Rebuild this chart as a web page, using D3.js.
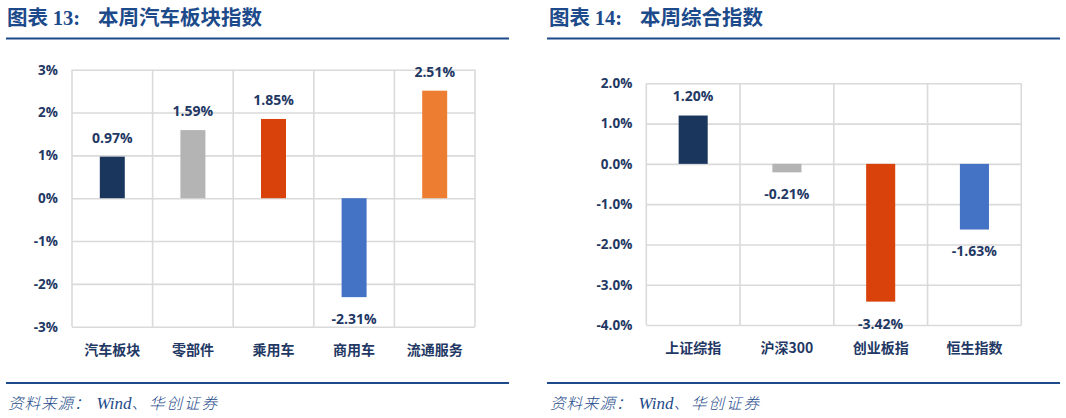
<!DOCTYPE html>
<html>
<head>
<meta charset="utf-8">
<script src="https://cdn.jsdelivr.net/npm/d3@7"></script>
<style>
  body { margin: 0; background: #fff; }
  svg { display: block; }
</style>
</head>
<body>
<svg width="1066" height="418"></svg>
<script>
// chart 13: auto sector indices
const autoCategories = ["汽车板块", "零部件", "乘用车", "商用车", "流通服务"];
const autoValues = [0.97, 1.59, 1.85, -2.31, 2.51];
const autoTicks = [-3, -2, -1, 0, 1, 2, 3];

// chart 14: broad market indices
const indexCategories = ["上证综指", "沪深300", "创业板指", "恒生指数"];
const indexValues = [1.20, -0.21, -3.42, -1.63];
const indexTicks = [-4, -3, -2, -1, 0, 1, 2];

const autoColors = ["#1b365d", "#b4b4b4", "#d9420b", "#4472c4", "#ed7d31"];
const indexColors = ["#1b365d", "#b4b4b4", "#d9420b", "#4472c4"];

const svg = d3.select("svg");
const navy = "#1f3864";
const blue = "#1c4a8a";
const numFont = "'Open Sans', 'Noto Sans CJK SC', sans-serif";
const cjkFont = "'Noto Sans CJK SC', sans-serif";

// plain hyphen for negatives, like the original
const locale = d3.formatLocale({ decimal: ".", thousands: ",", grouping: [3], currency: ["", ""], minus: "-" });

const drawPanel = function(opt) {
  const g = svg.append("g");

  // title + rules
  const title = g.append("text")
    .attr("x", opt.titleX)
    .attr("y", 24.5)
    .attr("fill", blue)
    .attr("font-size", 20.5)
    .attr("font-weight", "bold");
  title.append("tspan").attr("font-family", cjkFont).text("图表 ");
  title.append("tspan").attr("font-family", "'Liberation Serif', serif").text(opt.number + ":");
  title.append("tspan").attr("font-family", cjkFont).attr("dx", 18).text(opt.title);

  g.append("line")
    .attr("x1", opt.ruleX0).attr("x2", opt.ruleX1)
    .attr("y1", 38.5).attr("y2", 38.5)
    .attr("stroke", blue).attr("stroke-width", 2.2);
  g.append("line")
    .attr("x1", opt.ruleX0).attr("x2", opt.ruleX1)
    .attr("y1", 383).attr("y2", 383)
    .attr("stroke", blue).attr("stroke-width", 2.2);

  const source = g.append("text")
    .attr("x", opt.titleX + 1)
    .attr("y", 409)
    .attr("fill", blue)
    .attr("font-size", 15.5)
    .attr("font-style", "italic");
  source.append("tspan").attr("font-family", cjkFont).attr("font-weight", 300).attr("letter-spacing", 1).text("资料来源：");
  source.append("tspan").attr("font-family", "'Liberation Serif', serif").attr("font-size", 17).attr("dx", 6).text("Wind");
  source.append("tspan").attr("font-family", cjkFont).attr("font-weight", 300).attr("letter-spacing", 2).text("、华创证券");

  const scaleX = d3.scaleBand()
    .domain(opt.categories)
    .range([opt.left, opt.right])
    .padding(0);

  const scaleY = d3.scaleLinear()
    .domain(d3.extent(opt.ticks))
    .range([opt.bottom, opt.top]);

  // horizontal grid + y labels
  const axisY = d3.axisLeft(scaleY)
    .tickValues(opt.ticks)
    .tickSizeInner(-(opt.right - opt.left))
    .tickSizeOuter(0)
    .tickPadding(14)
    .tickFormat(d => locale.format(opt.fmt)(d) + "%");

  const yGroup = g.append("g")
    .attr("transform", `translate(${opt.left},0)`)
    .call(axisY);
  yGroup.select(".domain").remove();
  yGroup.selectAll("line").attr("stroke", "#dadada").attr("stroke-width", 1.6);
  yGroup.selectAll("text")
    .attr("fill", navy)
    .attr("font-size", 13.5)
    .attr("font-weight", "bold")
    .attr("font-family", numFont);

  // vertical grid at band edges
  const edges = opt.categories.map(c => scaleX(c)).concat([opt.right]);
  g.selectAll("line.vgrid")
    .data(edges)
    .enter()
    .append("line")
    .attr("class", "vgrid")
    .attr("x1", d => d).attr("x2", d => d)
    .attr("y1", opt.top).attr("y2", opt.bottom)
    .attr("stroke", "#dadada").attr("stroke-width", 1.6);

  // category labels
  const axisX = d3.axisBottom(scaleX).tickSize(0).tickPadding(0);
  const xGroup = g.append("g")
    .attr("transform", `translate(0,${opt.labelY})`)
    .call(axisX);
  xGroup.select(".domain").remove();
  xGroup.selectAll("text")
    .attr("fill", navy)
    .attr("font-size", 14)
    .attr("font-weight", "bold")
    .attr("font-family", cjkFont)
    .attr("dy", "0.35em");

  // bars
  const barW = scaleX.bandwidth() * 0.31;
  const rows = opt.categories.map((c, i) => ({ c: c, v: opt.values[i], color: opt.colors[i] }));

  g.selectAll("rect.bar")
    .data(rows)
    .enter()
    .append("rect")
    .attr("class", "bar")
    .attr("x", d => scaleX(d.c) + scaleX.bandwidth() / 2 - barW / 2)
    .attr("y", d => scaleY(Math.max(0, d.v)))
    .attr("width", barW)
    .attr("height", d => Math.abs(scaleY(d.v) - scaleY(0)))
    .attr("fill", d => d.color);

  g.selectAll("text.val")
    .data(rows)
    .enter()
    .append("text")
    .attr("class", "val")
    .attr("x", d => scaleX(d.c) + scaleX.bandwidth() / 2)
    .attr("y", d => d.v >= 0 ? scaleY(d.v) - 19 : scaleY(d.v) + 22)
    .attr("dy", "0.35em")
    .attr("text-anchor", "middle")
    .attr("fill", navy)
    .attr("font-size", 14)
    .attr("font-weight", "bold")
    .attr("font-family", numFont)
    .text(d => locale.format(".2f")(d.v) + "%");
};

drawPanel({
  number: "13",
  title: "本周汽车板块指数",
  titleX: 7,
  ruleX0: 6,
  ruleX1: 509,
  categories: autoCategories,
  values: autoValues,
  colors: autoColors,
  ticks: autoTicks,
  fmt: ".0f",
  left: 72,
  right: 475,
  top: 69.7,
  bottom: 326.7,
  labelY: 350
});

drawPanel({
  number: "14",
  title: "本周综合指数",
  titleX: 549,
  ruleX0: 547,
  ruleX1: 1060,
  categories: indexCategories,
  values: indexValues,
  colors: indexColors,
  ticks: indexTicks,
  fmt: ".1f",
  left: 646.3,
  right: 1021.3,
  top: 83.3,
  bottom: 325,
  labelY: 348.5
});
</script>
</body>
</html>
